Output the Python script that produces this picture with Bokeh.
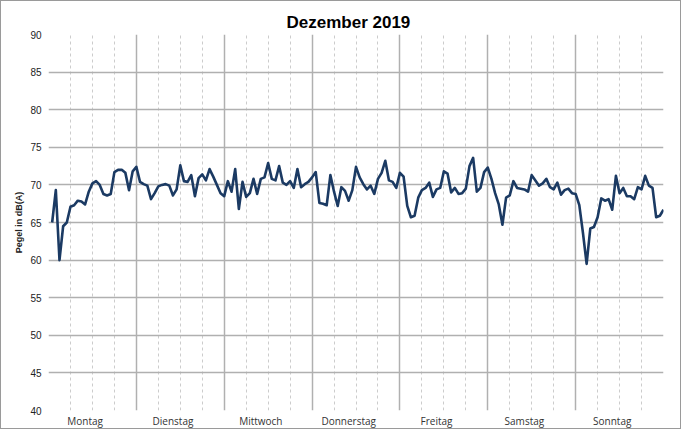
from bokeh.plotting import figure
from bokeh.models import FixedTicker, Label, Range1d
from bokeh.embed import file_html
from bokeh.resources import INLINE

# ---- data ----
hours = list(range(1, 169))
pegel = [
    65.0, 69.3, 60.0, 64.5, 65.0, 67.1, 67.3, 67.9, 67.8, 67.4, 69.1, 70.2,
    70.5, 70.0, 68.8, 68.6, 68.8, 71.7, 72.0, 72.0, 71.6, 69.3, 71.8, 72.4,
    70.4, 70.1, 69.9, 68.1, 68.9, 69.8, 70.0, 70.1, 69.9, 68.6, 69.4, 72.6,
    70.5, 70.4, 71.3, 68.5, 70.9, 71.4, 70.6, 72.1, 71.1, 70.0, 68.9, 68.5,
    70.5, 69.1, 72.1, 66.8, 70.4, 68.4, 68.9, 70.8, 68.8, 70.8, 71.0, 72.9,
    70.8, 70.6, 72.5, 70.3, 70.0, 70.5, 69.6, 72.1, 69.7, 70.1, 70.4, 71.0,
    71.7, 67.6, 67.5, 67.3, 71.3, 69.1, 67.2, 69.7, 69.2, 67.9, 69.3, 72.4,
    71.0, 70.1, 69.4, 69.9, 68.8, 70.8, 71.6, 73.2, 70.6, 70.4, 69.6, 71.6,
    71.1, 67.2, 65.7, 65.9, 68.3, 69.3, 69.6, 70.3, 68.4, 69.4, 69.6, 71.8,
    71.5, 69.0, 69.6, 68.8, 68.9, 69.5, 72.5, 73.6, 69.1, 69.6, 71.7, 72.3,
    70.8, 68.9, 67.4, 64.7, 68.3, 68.6, 70.5, 69.6, 69.5, 69.4, 69.1, 71.3,
    70.6, 69.9, 70.2, 70.8, 69.7, 69.4, 70.3, 68.7, 69.3, 69.5, 68.9, 68.8,
    67.3, 63.6, 59.5, 64.2, 64.4, 65.7, 68.2, 67.9, 68.1, 66.7, 71.2, 68.9,
    69.6, 68.5, 68.5, 68.1, 69.7, 69.4, 71.2, 69.9, 69.6, 65.7, 65.9, 66.7,
]
day_names = ["Montag", "Dienstag", "Mittwoch", "Donnerstag", "Freitag", "Samstag", "Sonntag"]
day_bounds = [0, 24, 48, 72, 96, 120, 144, 168]
bound_labels = ["0", "24", "48", "72", "96", "120", "144", "168"]
y_ticks = [40, 45, 50, 55, 60, 65, 70, 75, 80, 85, 90]

# ---- figure ----
p = figure(width=681, height=429, output_backend="svg", toolbar_location=None,
           x_range=Range1d(0, 168), y_range=Range1d(40, 90),
           min_border_left=47, min_border_right=19, min_border_top=33, min_border_bottom=15)
p.styles = {"border": "1px solid #9a9a9a"}
p.outline_line_color = None
p.background_fill_color = "white"
p.border_fill_color = "white"

p.title.text = "Dezember 2019"
p.title.align = "left"
p.title.offset = 238
p.title.text_font = "Liberation Sans"
p.title.text_font_size = "17px"
p.title.text_font_style = "bold"
p.title.text_color = "#000000"
p.title.standoff = 6

# grids
minor = [h for h in range(6, 168, 6) if h % 24 != 0]
p.xgrid.ticker = FixedTicker(ticks=day_bounds, minor_ticks=minor)
p.xgrid.grid_line_color = "#b0b0b0"
p.xgrid.grid_line_width = 1.5
p.xgrid.minor_grid_line_color = "#cccccc"
p.xgrid.minor_grid_line_dash = "3 3"
p.xgrid.minor_grid_line_width = 1
p.ygrid.ticker = FixedTicker(ticks=y_ticks)
p.ygrid.grid_line_color = "#b0b0b0"
p.ygrid.grid_line_width = 1.5

# y axis
p.yaxis.ticker = FixedTicker(ticks=y_ticks)
p.yaxis.axis_line_color = None
p.yaxis.major_tick_line_color = None
p.yaxis.major_tick_out = 0
p.yaxis.major_tick_in = 0
p.yaxis.minor_tick_line_color = None
p.yaxis.major_label_text_font = "Liberation Sans"
p.yaxis.major_label_text_font_size = "10px"
p.yaxis.major_label_text_color = "#222222"
p.yaxis.major_label_standoff = 7
p.yaxis.axis_label = "Pegel in dB(A)"
p.yaxis.axis_label_text_font = "Liberation Sans"
p.yaxis.axis_label_text_font_size = "9px"
p.yaxis.axis_label_text_font_style = "bold"
p.yaxis.axis_label_text_color = "#222222"
p.yaxis.axis_label_standoff = 3

# x axis: day names
label_pos = [d * 24 + 10 for d in range(len(day_names))]
p.xaxis.ticker = FixedTicker(ticks=label_pos)
p.xaxis.major_label_overrides = {pos: name for pos, name in zip(label_pos, day_names)}
p.xaxis.axis_line_color = None
p.xaxis.major_tick_line_color = None
p.xaxis.major_tick_out = 0
p.xaxis.major_tick_in = 0
p.xaxis.minor_tick_line_color = None
p.xaxis.major_label_text_font = "Open Sans"
p.xaxis.major_label_text_font_size = "10px"
p.xaxis.major_label_text_color = "#333333"
p.xaxis.major_label_standoff = 3

# faint hour labels at day boundaries
for b, t in zip(day_bounds, bound_labels):
    p.add_layout(Label(x=b, y=40, y_offset=-4, text=t, text_align="center",
                       text_baseline="top", text_font="Liberation Sans",
                       text_font_size="8px", text_color="#e2e2e2"))

p.line(hours, pegel, line_color="#1b3a63", line_width=2.6, line_join="round")

open("out.html", "w").write(file_html(p, INLINE))
